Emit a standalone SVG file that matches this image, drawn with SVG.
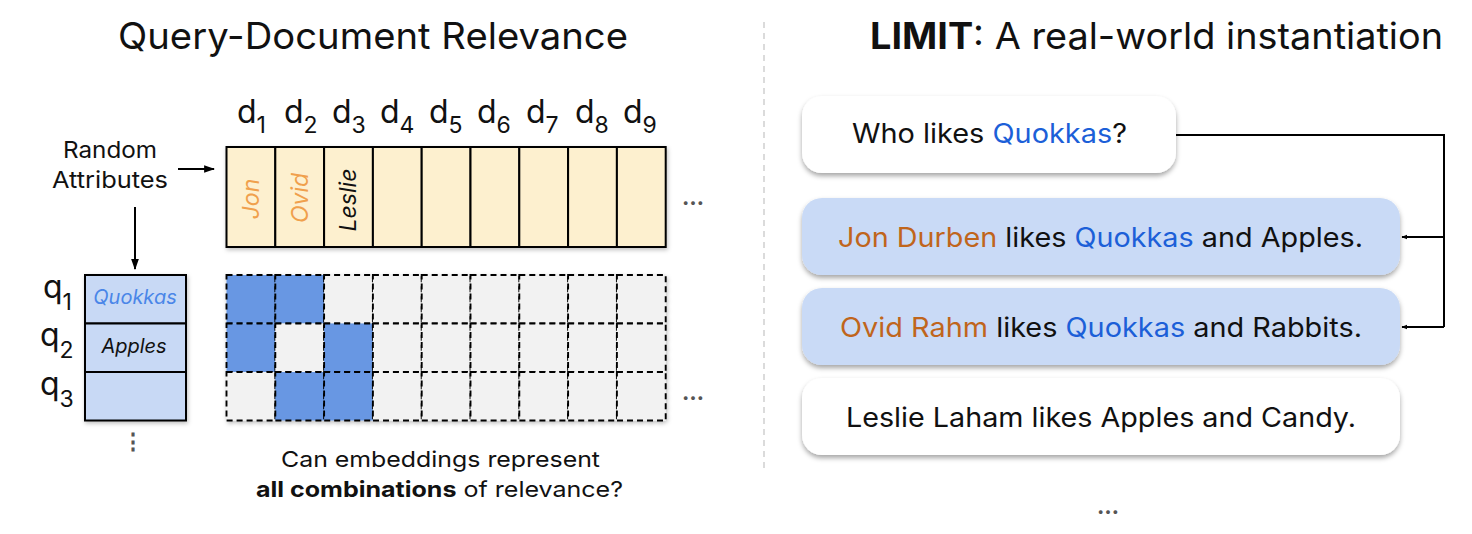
<svg xmlns="http://www.w3.org/2000/svg" width="1472" height="534" viewBox="0 0 1472 534">
<defs>
<style>
text{font-family:"Inter","Open Sans","Liberation Sans",sans-serif;fill:#111}
.title{font-size:37px}
.lbl{font-size:32px}
.sub{font-size:23px}
.ra{font-size:23px}
.doc{fill:#fdf0cf;stroke:#000;stroke-width:2}
.cell{stroke:#000;stroke-width:1.9;stroke-dasharray:6 4}
.on{fill:#6797e3}
.off{fill:#f2f2f2}
.qc{fill:#c8d9f5;stroke:#000;stroke-width:2}
.it{font-style:italic;font-size:20px;text-anchor:middle}
.bt{font-size:27px}
.or{fill:#c0651c}
.bl{fill:#1c5fd8}
.cap{font-size:22px}
.dots{font-size:22px;font-weight:bold;fill:#555;text-anchor:middle}
.conn{fill:none;stroke:#000;stroke-width:2}
</style>
<filter id="sh" x="-10%" y="-20%" width="120%" height="150%">
<feDropShadow dx="0" dy="3" stdDeviation="2.5" flood-color="#000" flood-opacity="0.35"/>
</filter>
<filter id="sh2" x="-10%" y="-10%" width="120%" height="130%">
<feDropShadow dx="1" dy="2" stdDeviation="2" flood-color="#000" flood-opacity="0.25"/>
</filter>
<marker id="ah" viewBox="0 0 10 10" refX="9" refY="5" markerWidth="6" markerHeight="6" orient="auto" markerUnits="userSpaceOnUse">
<path d="M0,1 L10,5 L0,9 z" fill="#000"/>
</marker>
<marker id="ah2" viewBox="0 0 10 10" refX="9" refY="5" markerWidth="11" markerHeight="11" orient="auto" markerUnits="userSpaceOnUse">
<path d="M0,1.5 L10,5 L0,8.5 z" fill="#000"/>
</marker>
</defs>
<rect width="1472" height="534" fill="#fff"/>

<g id="titles">
<text class="title" x="118" y="49" textLength="510" lengthAdjust="spacingAndGlyphs">Query-Document Relevance</text>
<text class="title" x="870" y="49" textLength="573" lengthAdjust="spacingAndGlyphs"><tspan font-weight="bold">LIMIT</tspan>: A real-world instantiation</text>
</g>

<line x1="764" y1="22" x2="764" y2="472" stroke="#d0d0d0" stroke-width="1.5" stroke-dasharray="6 5"/>

<g id="doc-labels" class="lbl">
<text x="237" y="123">d<tspan class="sub" dy="10">1</tspan></text>
<text x="284" y="123">d<tspan class="sub" dy="10">2</tspan></text>
<text x="332" y="123">d<tspan class="sub" dy="10">3</tspan></text>
<text x="380" y="123">d<tspan class="sub" dy="10">4</tspan></text>
<text x="429" y="123">d<tspan class="sub" dy="10">5</tspan></text>
<text x="477" y="123">d<tspan class="sub" dy="10">6</tspan></text>
<text x="526" y="123">d<tspan class="sub" dy="10">7</tspan></text>
<text x="575" y="123">d<tspan class="sub" dy="10">8</tspan></text>
<text x="623" y="123">d<tspan class="sub" dy="10">9</tspan></text>
</g>

<g id="random-attributes">
<text class="ra" x="63" y="158" textLength="94" lengthAdjust="spacingAndGlyphs">Random</text>
<text class="ra" x="52" y="188" textLength="116" lengthAdjust="spacingAndGlyphs">Attributes</text>
</g>

<g id="documents" filter="url(#sh2)">
<rect class="doc" x="226.5" y="147" width="48.8" height="100"/>
<rect class="doc" x="275.3" y="147" width="48.8" height="100"/>
<rect class="doc" x="324.1" y="147" width="48.8" height="100"/>
<rect class="doc" x="372.9" y="147" width="48.8" height="100"/>
<rect class="doc" x="421.7" y="147" width="48.8" height="100"/>
<rect class="doc" x="470.5" y="147" width="48.8" height="100"/>
<rect class="doc" x="519.3" y="147" width="48.8" height="100"/>
<rect class="doc" x="568.1" y="147" width="48.8" height="100"/>
<rect class="doc" x="616.9" y="147" width="48.8" height="100"/>
</g>
<g id="doc-names">
<text class="it" transform="translate(251,199) rotate(-90)" dominant-baseline="central" style="fill:#f0a04c;font-size:23px">Jon</text>
<text class="it" transform="translate(300,198) rotate(-90)" dominant-baseline="central" style="fill:#f0a04c;font-size:23px">Ovid</text>
<text class="it" transform="translate(348,200) rotate(-90)" dominant-baseline="central" style="font-size:23px">Leslie</text>
</g>
<text class="dots" x="693" y="205">…</text>

<g id="query-labels" class="lbl">
<text x="43" y="298">q<tspan class="sub" dy="12">1</tspan></text>
<text x="40" y="346">q<tspan class="sub" dy="12">2</tspan></text>
<text x="40" y="395">q<tspan class="sub" dy="12">3</tspan></text>
</g>

<g id="queries" filter="url(#sh2)">
<rect class="qc" x="85" y="275" width="101" height="48.5"/>
<rect class="qc" x="85" y="323.5" width="101" height="48.5"/>
<rect class="qc" x="85" y="372" width="101" height="48.5"/>
</g>
<text class="it" x="135" y="304" style="fill:#4a86e8">Quokkas</text>
<text class="it" x="134" y="353">Apples</text>
<text class="dots" x="133" y="449">⋮</text>

<g id="relevance-grid" filter="url(#sh2)">
<rect class="cell on" x="226.5" y="275" width="48.8" height="48.5"/>
<rect class="cell on" x="275.3" y="275" width="48.8" height="48.5"/>
<rect class="cell off" x="324.1" y="275" width="48.8" height="48.5"/>
<rect class="cell off" x="372.9" y="275" width="48.8" height="48.5"/>
<rect class="cell off" x="421.7" y="275" width="48.8" height="48.5"/>
<rect class="cell off" x="470.5" y="275" width="48.8" height="48.5"/>
<rect class="cell off" x="519.3" y="275" width="48.8" height="48.5"/>
<rect class="cell off" x="568.1" y="275" width="48.8" height="48.5"/>
<rect class="cell off" x="616.9" y="275" width="48.8" height="48.5"/>

<rect class="cell on" x="226.5" y="323.5" width="48.8" height="48.5"/>
<rect class="cell off" x="275.3" y="323.5" width="48.8" height="48.5"/>
<rect class="cell on" x="324.1" y="323.5" width="48.8" height="48.5"/>
<rect class="cell off" x="372.9" y="323.5" width="48.8" height="48.5"/>
<rect class="cell off" x="421.7" y="323.5" width="48.8" height="48.5"/>
<rect class="cell off" x="470.5" y="323.5" width="48.8" height="48.5"/>
<rect class="cell off" x="519.3" y="323.5" width="48.8" height="48.5"/>
<rect class="cell off" x="568.1" y="323.5" width="48.8" height="48.5"/>
<rect class="cell off" x="616.9" y="323.5" width="48.8" height="48.5"/>

<rect class="cell off" x="226.5" y="372" width="48.8" height="48.5"/>
<rect class="cell on" x="275.3" y="372" width="48.8" height="48.5"/>
<rect class="cell on" x="324.1" y="372" width="48.8" height="48.5"/>
<rect class="cell off" x="372.9" y="372" width="48.8" height="48.5"/>
<rect class="cell off" x="421.7" y="372" width="48.8" height="48.5"/>
<rect class="cell off" x="470.5" y="372" width="48.8" height="48.5"/>
<rect class="cell off" x="519.3" y="372" width="48.8" height="48.5"/>
<rect class="cell off" x="568.1" y="372" width="48.8" height="48.5"/>
<rect class="cell off" x="616.9" y="372" width="48.8" height="48.5"/>
</g>
<text class="dots" x="693" y="400">…</text>

<g id="caption">
<text class="cap" x="281" y="467" textLength="319" lengthAdjust="spacingAndGlyphs">Can embeddings represent</text>
<text class="cap" x="256" y="497" textLength="367" lengthAdjust="spacingAndGlyphs"><tspan font-weight="bold">all combinations</tspan> of relevance?</text>
</g>

<g id="query-box">
<rect x="802" y="96" width="374" height="77" rx="20" fill="#fff" filter="url(#sh)"/>
<text class="bt" x="852" y="143" textLength="275" lengthAdjust="spacingAndGlyphs">Who likes <tspan class="bl">Quokkas</tspan>?</text>
</g>
<g id="doc-jon">
<rect x="802" y="198" width="598" height="77" rx="20" fill="#c9daf6" filter="url(#sh)"/>
<text class="bt" x="838" y="247" textLength="525" lengthAdjust="spacingAndGlyphs"><tspan class="or">Jon Durben</tspan> likes <tspan class="bl">Quokkas</tspan> and Apples.</text>
</g>
<g id="doc-ovid">
<rect x="802" y="288" width="598" height="77" rx="20" fill="#c9daf6" filter="url(#sh)"/>
<text class="bt" x="840" y="337" textLength="522" lengthAdjust="spacingAndGlyphs"><tspan class="or">Ovid Rahm</tspan> likes <tspan class="bl">Quokkas</tspan> and Rabbits.</text>
</g>
<g id="doc-leslie">
<rect x="802" y="378" width="598" height="77" rx="20" fill="#fff" filter="url(#sh)"/>
<text class="bt" x="846" y="427" textLength="510" lengthAdjust="spacingAndGlyphs">Leslie Laham likes Apples and Candy.</text>
</g>
<text class="dots" x="1108" y="514">…</text>

<g id="connectors">
<line class="conn" x1="178" y1="169" x2="214" y2="169" marker-end="url(#ah2)"/>
<line class="conn" x1="135" y1="207" x2="135" y2="269" marker-end="url(#ah2)"/>
<polyline class="conn" points="1176,135 1444,135 1444,327"/>
<line class="conn" x1="1444" y1="237" x2="1402" y2="237" marker-end="url(#ah)"/>
<line class="conn" x1="1444" y1="327" x2="1402" y2="327" marker-end="url(#ah)"/>
</g>
</svg>
